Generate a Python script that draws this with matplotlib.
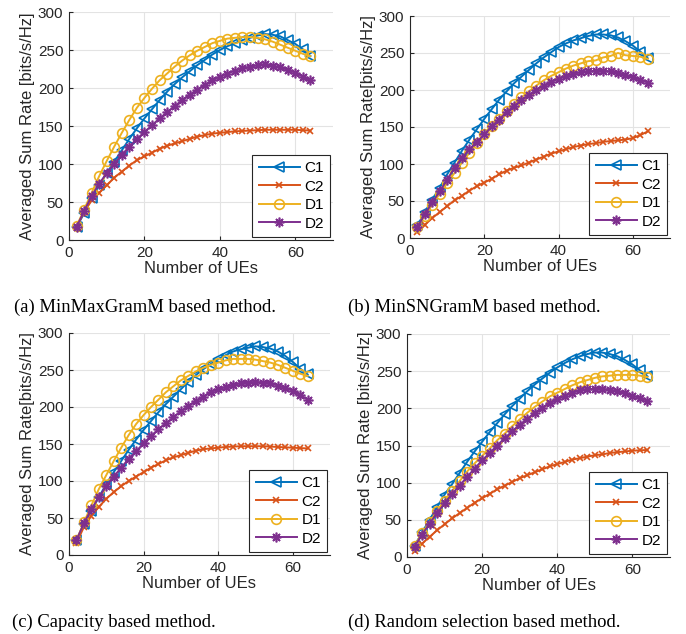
import matplotlib
matplotlib.use("Agg")
import matplotlib.pyplot as plt
import numpy as np

# ─── data ───
num_ues = list(range(2, 66, 2))

# (a) MinMaxGramM
a_c1 = [17, 35, 55, 72, 88, 103, 118, 133, 147, 160, 172, 184, 195, 205, 214, 222,
        230, 237, 244, 250, 255, 259, 263, 266, 269, 271, 270, 268, 263, 258, 251, 242]
a_c2 = [17, 37, 52, 62, 72, 82, 90, 98, 105, 110, 115, 120, 124, 127, 130, 133,
        136, 138, 140, 141, 142, 143, 143.5, 144, 144.5, 145, 145, 145, 145, 145, 144.5, 144]
a_d1 = [18, 40, 62, 84, 104, 123, 141, 158, 174, 187, 199, 210, 219, 228, 236, 243,
        249, 254, 259, 262, 265, 266, 267, 267, 266, 264, 261, 257, 253, 249, 245, 242]
a_d2 = [17, 38, 58, 74, 88, 100, 112, 123, 133, 142, 151, 160, 168, 176, 184, 191,
        198, 204, 210, 215, 219, 223, 226, 228, 230, 231, 229, 227, 224, 220, 215, 210]

# (b) MinSNGramM
b_c1 = [17, 35, 52, 68, 86, 102, 118, 133, 147, 161, 174, 187, 198, 209, 218, 227,
        236, 244, 251, 258, 263, 267, 270, 273, 275, 275, 274, 271, 266, 260, 252, 243]
b_c2 = [8, 18, 27, 35, 43, 51, 57, 64, 70, 75, 80, 86, 91, 95, 98, 102,
        106, 110, 114, 117, 120, 123, 125, 127, 128, 130, 131, 132, 133, 135, 139, 144]
b_d1 = [15, 30, 45, 60, 74, 88, 102, 115, 128, 140, 151, 161, 171, 181, 190, 198,
        206, 213, 219, 224, 229, 233, 236, 239, 240, 244, 246, 250, 247, 246, 245, 242]
b_d2 = [15, 32, 48, 63, 79, 95, 108, 120, 130, 140, 151, 160, 170, 178, 186, 193,
        200, 206, 211, 215, 219, 222, 224, 225, 226, 226, 225, 223, 220, 217, 214, 210]

# (c) Capacity
c_c1 = [20, 42, 60, 78, 96, 112, 127, 142, 156, 169, 181, 193, 204, 214, 224, 234,
        243, 251, 258, 265, 270, 275, 278, 280, 282, 281, 279, 275, 269, 261, 252, 244]
c_c2 = [16, 38, 53, 65, 76, 85, 93, 100, 106, 112, 118, 123, 128, 132, 135, 138,
        141, 143, 144, 145, 146, 146.5, 147, 147, 147, 147, 146.5, 146, 145.5, 145, 144.5, 144]
c_d1 = [20, 44, 67, 89, 108, 127, 145, 162, 177, 189, 200, 210, 220, 228, 236, 242,
        248, 253, 257, 260, 263, 265, 265, 265, 264, 262, 260, 257, 253, 249, 245, 242]
c_d2 = [20, 43, 62, 78, 93, 106, 118, 130, 140, 151, 161, 170, 178, 186, 194, 201,
        208, 214, 220, 224, 227, 230, 232, 233, 234, 233, 232, 229, 226, 222, 216, 210]

# (d) Random selection
d_c1 = [15, 33, 50, 67, 84, 98, 113, 128, 142, 155, 168, 180, 192, 203, 213, 223,
        232, 240, 248, 255, 261, 266, 270, 273, 275, 275, 273, 270, 265, 259, 251, 243]
d_c2 = [8, 18, 27, 36, 44, 52, 59, 66, 73, 79, 85, 91, 96, 101, 106, 110,
        114, 118, 122, 125, 128, 131, 133, 135, 137, 138, 140, 141, 142, 143, 143.5, 144]
d_d1 = [15, 32, 47, 62, 76, 89, 102, 115, 126, 136, 146, 157, 166, 176, 185, 194,
        202, 209, 216, 221, 226, 231, 235, 238, 241, 243, 244, 245, 245, 245, 244, 242]
d_d2 = [14, 30, 45, 59, 72, 85, 96, 108, 119, 130, 140, 150, 160, 169, 178, 186,
        194, 201, 207, 212, 217, 221, 224, 226, 226, 226, 225, 223, 220, 217, 214, 210]

series_names = ["C1", "C2", "D1", "D2"]
y_ticks = [0, 50, 100, 150, 200, 250, 300]
x_ticks = [0, 20, 40, 60]

# ─── style ───
COLORS = ["#0072BD", "#D95319", "#EDB120", "#7E2F8E"]
MARKERS = ["<", "x", "o", (8, 2, 0)]   # last one: MATLAB-like asterisk
MSIZES = [7.5, 5, 7, 7]
AX_COLOR = "#262626"

plt.rcParams["font.family"] = ["Liberation Sans", "DejaVu Sans"]

fig = plt.figure(figsize=(6.86, 6.34), dpi=100)
W, H = 686, 634


def _axes_px(left, top, right, bottom):
    """pixel box -> figure axes"""
    return fig.add_axes([left / W, 1 - bottom / H, (right - left) / W, (bottom - top) / H])


def draw_panel(ax, ys, ylabel):
    for y, name, c, m, ms in zip(ys, series_names, COLORS, MARKERS, MSIZES):
        ax.plot(num_ues, y, color=c, marker=m, markersize=ms, markerfacecolor="none",
                markeredgewidth=1.2, linewidth=1.4, label=name)
    ax.set_xlim(0, 70)
    ax.set_ylim(0, 300)
    ax.set_xticks(x_ticks)
    ax.set_yticks(y_ticks)
    ax.grid(True, color="#e3e3e3", linewidth=0.8)
    ax.set_axisbelow(True)
    for s in ("top", "right"):
        ax.spines[s].set_visible(False)
    for s in ("left", "bottom"):
        ax.spines[s].set_color(AX_COLOR)
        ax.spines[s].set_linewidth(0.8)
    ax.tick_params(direction="in", length=3, colors=AX_COLOR, labelsize=11, pad=4)
    ax.set_xlabel("Number of UEs", fontsize=12, color=AX_COLOR, labelpad=1)
    ax.set_ylabel(ylabel, fontsize=12, color=AX_COLOR, labelpad=2)
    leg = ax.legend(loc="lower right", fontsize=11, fancybox=False, framealpha=1,
                    edgecolor=AX_COLOR, handlelength=2.7, borderaxespad=0.2,
                    labelspacing=0.3, handletextpad=0.3)
    leg.get_frame().set_linewidth(0.8)


ax_a = _axes_px(69, 12, 333, 240)
ax_b = _axes_px(410, 16, 670, 238)
ax_c = _axes_px(69, 333, 330, 555)
ax_d = _axes_px(407, 334, 670, 557)

draw_panel(ax_a, [a_c1, a_c2, a_d1, a_d2], "Averaged Sum Rate [bits/s/Hz]")
draw_panel(ax_b, [b_c1, b_c2, b_d1, b_d2], "Averaged Sum Rate[bits/s/Hz]")
draw_panel(ax_c, [c_c1, c_c2, c_d1, c_d2], "Averaged Sum Rate[bits/s/Hz]")
draw_panel(ax_d, [d_c1, d_c2, d_d1, d_d2], "Averaged Sum Rate [bits/s/Hz]")

captions = [
    (14, 307, "(a) MinMaxGramM based method."),
    (348, 307, "(b) MinSNGramM based method."),
    (12, 622, "(c) Capacity based method."),
    (348, 622, "(d) Random selection based method."),
]
for x, y, txt in captions:
    fig.text(x / W, 1 - y / H, txt, fontsize=13.4, va="center", ha="left",
             family=["Liberation Serif", "DejaVu Serif"], color="black")

fig.savefig("out.png", dpi=100)
